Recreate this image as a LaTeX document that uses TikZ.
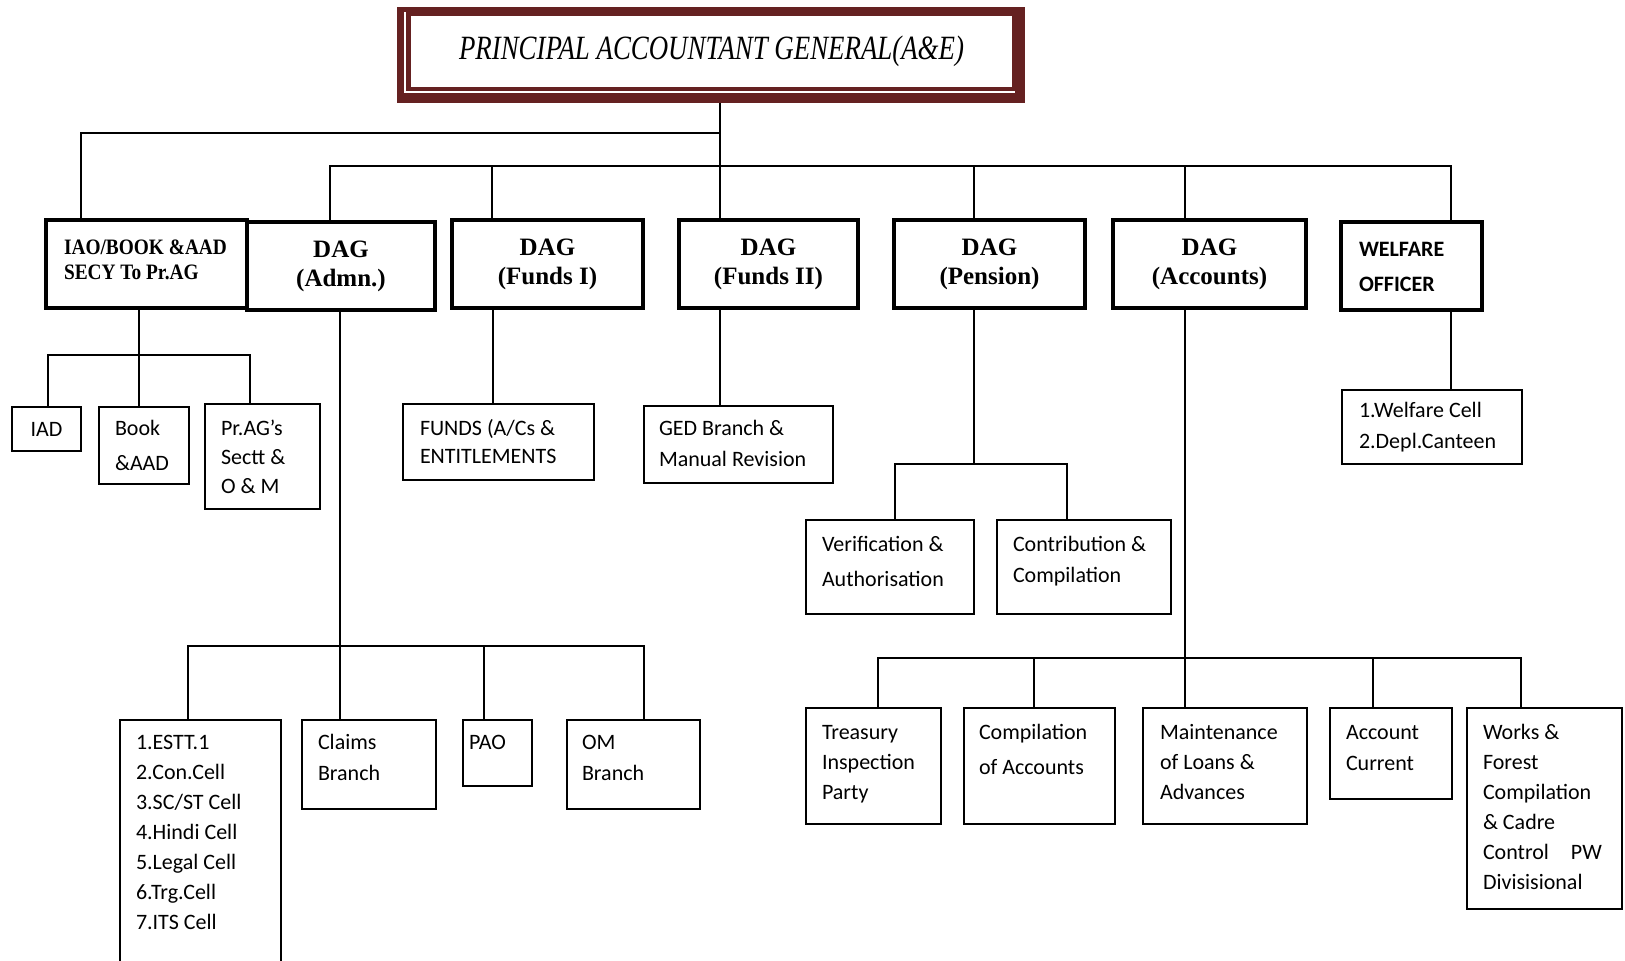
\documentclass[tikz,border=0pt]{standalone}
\usepackage{fontspec}
\setmainfont{Carlito}
\newfontfamily\dagf{Liberation Serif}
\newfontfamily\iaof{Liberation Serif}[FakeStretch=0.88]
\newfontfamily\titlef{Liberation Serif}[FakeStretch=0.79]
\definecolor{maroon}{RGB}{101,33,33}
\newcommand\mkbox[7]{\node[#6, minimum width={(#4-#2)*1pt}, minimum height={(#5-#3)*1pt}] (#1) at ({(#2+#4)/2},{(#3+#5)/2}) {#7};}
\begin{document}
\begin{tikzpicture}[x=1pt,y=-1pt,
  conn/.style={line width=2pt},
  tbox/.style={draw, line width=3.5pt, inner sep=0pt, outer sep=0pt, fill=white, align=center,
    font=\dagf\bfseries\fontsize{25}{29}\selectfont},
  sbox/.style={draw, line width=2pt, inner sep=0pt, outer sep=0pt, font=\fontsize{22}{30}\selectfont},
  txt/.style={inner sep=0pt, outer sep=0pt, align=left, anchor=north west}]
\useasboundingbox[fill=white] (0,0) rectangle (1625,961);

% top box
\node[fill=maroon, inner sep=0pt, outer sep=0pt, minimum width=628pt, minimum height=96pt] (topO) at (711,55) {};
\draw[white, line width=2pt] (405,12) -- (405,92) -- (1015,92);
\node[fill=white, inner sep=0pt, outer sep=0pt, minimum width=601pt, minimum height=71pt,
  font=\titlef\itshape\fontsize{34}{40}\selectfont] (top) at (711.5,51.5) {PRINCIPAL ACCOUNTANT GENERAL(A\&E)};

% level 1
\mkbox{iao}{46}{220}{247}{308}{tbox}{}
\mkbox{adm}{247}{222}{435}{310}{tbox}{DAG\\(Admn.)}
\mkbox{f1}{452}{220}{643}{308}{tbox}{DAG\\(Funds I)}
\mkbox{f2}{679}{220}{858}{308}{tbox}{DAG\\(Funds II)}
\mkbox{pen}{894}{220}{1085}{308}{tbox}{DAG\\(Pension)}
\mkbox{acc}{1113}{220}{1306}{308}{tbox}{DAG\\(Accounts)}
\mkbox{wel}{1341}{222}{1482}{310}{tbox}{}

% level 2
\mkbox{iad}{12}{407}{81}{451}{sbox}{IAD}
\mkbox{book}{99}{407}{189}{484}{sbox}{}
\mkbox{prag}{205}{404}{320}{509}{sbox}{}
\mkbox{funds}{403}{404}{594}{480}{sbox}{}
\mkbox{ged}{644}{406}{833}{483}{sbox}{}
\mkbox{ver}{806}{520}{974}{614}{sbox}{}
\mkbox{con}{997}{520}{1171}{614}{sbox}{}
\mkbox{wcell}{1342}{390}{1522}{464}{sbox}{}
\mkbox{estt}{120}{720}{281}{962}{sbox}{}
\mkbox{clm}{302}{720}{436}{809}{sbox}{}
\mkbox{pao}{463}{720}{532}{786}{sbox}{}
\mkbox{om}{567}{720}{700}{809}{sbox}{}
\mkbox{tre}{806}{708}{941}{824}{sbox}{}
\mkbox{cmp}{964}{708}{1115}{824}{sbox}{}
\mkbox{mnt}{1143}{708}{1307}{824}{sbox}{}
\mkbox{acur}{1330}{708}{1452}{799}{sbox}{}
\mkbox{wrk}{1467}{708}{1622}{909}{sbox}{}

% texts
\node[txt, font=\iaof\bfseries\fontsize{22}{25}\selectfont] (iao-t) at (64,236.5) {\strut IAO/BOOK \&AAD\\SECY To Pr.AG};
\node[txt, font=\bfseries\fontsize{22}{35}\selectfont] (wel-t) at (1359,231.5) {\strut WELFARE\\OFFICER};
\node[txt, font=\fontsize{22}{35}\selectfont] (book-t) at (115,411) {\strut Book\\\&AAD};
\node[txt, font=\fontsize{22}{29}\selectfont] (prag-t) at (221,415) {\strut Pr.AG’s\\Sectt \&\\O \& M};
\node[txt, font=\fontsize{22}{28}\selectfont] (funds-t) at (420,416) {\strut FUNDS (A/Cs \&\\ENTITLEMENTS};
\node[txt, font=\fontsize{22}{31}\selectfont] (ged-t) at (659,414) {\strut GED Branch \&\\Manual Revision};
\node[txt, font=\fontsize{22}{35}\selectfont] (ver-t) at (822,527) {\strut Verification \&\\Authorisation};
\node[txt, font=\fontsize{22}{31}\selectfont] (con-t) at (1013,530) {\strut Contribution \&\\Compilation};
\node[txt, font=\fontsize{22}{31}\selectfont] (wcell-t) at (1359,396) {\strut 1.Welfare Cell\\2.Depl.Canteen};
\node[txt, font=\fontsize{22}{30}\selectfont] (estt-t) at (136,728.5) {\strut 1.ESTT.1\\2.Con.Cell\\3.SC/ST Cell\\4.Hindi Cell\\5.Legal Cell\\6.Trg.Cell\\7.ITS Cell};
\node[txt, font=\fontsize{22}{31}\selectfont] (clm-t) at (318,728) {\strut Claims\\Branch};
\node[txt, font=\fontsize{22}{31}\selectfont] (pao-t) at (469,728) {\strut PAO};
\node[txt, font=\fontsize{22}{31}\selectfont] (om-t) at (582,728) {\strut OM\\Branch};
\node[txt, font=\fontsize{22}{30}\selectfont] (tre-t) at (822,718.5) {\strut Treasury\\Inspection\\Party};
\node[txt, font=\fontsize{22}{35}\selectfont] (cmp-t) at (979,715) {\strut Compilation\\of Accounts};
\node[txt, font=\fontsize{22}{30}\selectfont] (mnt-t) at (1160,718.5) {\strut Maintenance\\of Loans \&\\Advances};
\node[txt, font=\fontsize{22}{31}\selectfont] (acur-t) at (1346,718) {\strut Account\\Current};
\node[txt, font=\fontsize{22}{30}\selectfont] (wrk-t) at (1483,718.5) {\strut Works \&\\Forest\\Compilation\\\& Cadre\\Control\quad PW\\Divisisional};

% coordinates
\coordinate (xT) at (720,0);  \coordinate (xI) at (81,0);   \coordinate (xA) at (330,0);
\coordinate (xF) at (492,0);  \coordinate (xP) at (974,0);  \coordinate (xC) at (1185,0);
\coordinate (xW) at (1451,0); \coordinate (yA) at (0,133);  \coordinate (yB) at (0,166);
\coordinate (xIB) at (139,0); \coordinate (xIAD) at (48,0); \coordinate (xPr) at (250,0);
\coordinate (yC) at (0,355);
\coordinate (xAd) at (340,0); \coordinate (xE) at (188,0);  \coordinate (xPa) at (484,0);
\coordinate (xO) at (644,0);  \coordinate (yD) at (0,646);
\coordinate (xF2) at (493,0);
\coordinate (yE) at (0,464);  \coordinate (xV) at (895,0);  \coordinate (xCo) at (1067,0);
\coordinate (yF) at (0,658);  \coordinate (xTr) at (878,0); \coordinate (xCm) at (1034,0);
\coordinate (xAc) at (1373,0); \coordinate (xWk) at (1521,0);

% level-1 connectors
\draw[conn] (topO.south -| xT) -- (f2.north -| xT);
\draw[conn] (yA -| xT) -- (yA -| xI) -- (iao.north -| xI);
\draw[conn] (adm.north -| xA) -- (yB -| xA) -- (yB -| xW) -- (wel.north -| xW);
\draw[conn] (yB -| xF) -- (f1.north -| xF);
\draw[conn] (yB -| xP) -- (pen.north -| xP);
\draw[conn] (yB -| xC) -- (acc.north -| xC);

% level-2 connectors
\draw[conn] (iao.south -| xIB) -- (book.north -| xIB);
\draw[conn] (iad.north -| xIAD) -- (yC -| xIAD) -- (yC -| xPr) -- (prag.north -| xPr);
\draw[conn] (adm.south -| xAd) -- (clm.north -| xAd);
\draw[conn] (estt.north -| xE) -- (yD -| xE) -- (yD -| xO) -- (om.north -| xO);
\draw[conn] (yD -| xPa) -- (pao.north -| xPa);
\draw[conn] (f1.south -| xF2) -- (funds.north -| xF2);
\draw[conn] (f2.south -| xT) -- (ged.north -| xT);
\draw[conn] (pen.south -| xP) -- (yE -| xP);
\draw[conn] (ver.north -| xV) -- (yE -| xV) -- (yE -| xCo) -- (con.north -| xCo);
\draw[conn] (acc.south -| xC) -- (mnt.north -| xC);
\draw[conn] (tre.north -| xTr) -- (yF -| xTr) -- (yF -| xWk) -- (wrk.north -| xWk);
\draw[conn] (yF -| xCm) -- (cmp.north -| xCm);
\draw[conn] (yF -| xAc) -- (acur.north -| xAc);
\draw[conn] (wel.south -| xW) -- (wcell.north -| xW);
\end{tikzpicture}
\end{document}
